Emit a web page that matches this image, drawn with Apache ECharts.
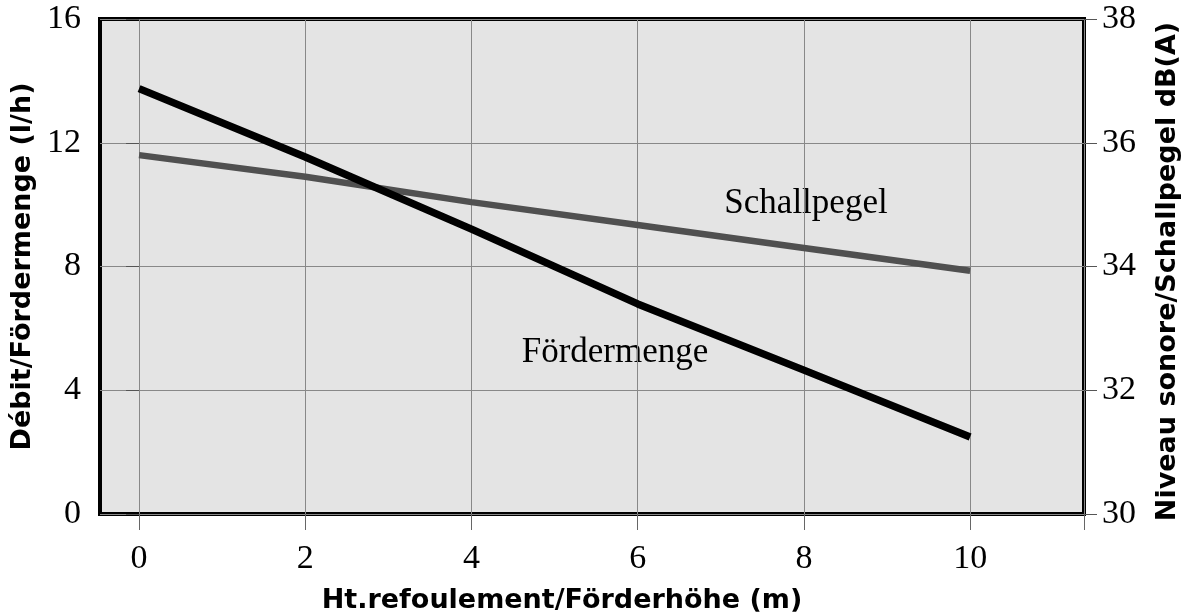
<!DOCTYPE html>
<html>
<head>
<meta charset="utf-8">
<script src="https://cdn.jsdelivr.net/npm/echarts@6/dist/echarts.min.js"></script>
<style>
html,body{margin:0;padding:0;background:#fff;}
#chart{width:1191px;height:615px;}
</style>
</head>
<body>
<div id="chart"></div>
<script>
// Data
const heads = [0, 2, 4, 6, 8, 10];                       // Ht.refoulement/Förderhöhe (m)
const flow = [13.75, 11.54, 9.21, 6.79, 4.65, 2.49];      // Débit/Fördermenge (l/h)
const sound = [35.80, 35.45, 35.04, 34.67, 34.30, 33.93]; // Niveau sonore/Schallpegel dB(A)
const xTickLabels = [0, 2, 4, 6, 8, 10];
const xMin = -0.47, xMax = 11.37;
const leftMin = 0, leftMax = 16, leftInterval = 4;
const rightMin = 30, rightMax = 38, rightInterval = 2;

const serif = '"Liberation Serif", "DejaVu Serif", serif';
const sans = '"DejaVu Sans", Verdana, sans-serif';

const chart = echarts.init(document.getElementById('chart'), null, {renderer: 'canvas'});
chart.setOption({
  animation: false,
  backgroundColor: '#ffffff',
  grid: {
    left: 100, right: 107, top: 19, bottom: 101,
    outerBoundsMode: 'none', containLabel: false,
    show: true, backgroundColor: '#e4e4e4', borderColor: '#000', borderWidth: 4
  },
  xAxis: {
    type: 'value', min: xMin, max: xMax,
    name: 'Ht.refoulement/Förderhöhe (m)', nameLocation: 'middle', nameGap: 73,
    nameTextStyle: {fontFamily: sans, fontWeight: 'bold', fontSize: 27, color: '#000', padding: [0, 60, 0, 0]},
    axisLine: {show: false},
    axisTick: {show: true, length: 16, customValues: xTickLabels.concat([xMax]), lineStyle: {color: '#666', width: 1}},
    axisLabel: {customValues: xTickLabels, margin: 28, fontFamily: serif, fontSize: 34, color: '#000'},
    splitLine: {show: true, lineStyle: {color: '#888', width: 1}}
  },
  yAxis: [
    {
      type: 'value', min: leftMin, max: leftMax, interval: leftInterval, position: 'left',
      name: 'Débit/Fördermenge (l/h)', nameLocation: 'middle', nameGap: 61, nameRotate: 90,
      nameTextStyle: {fontFamily: sans, fontWeight: 'bold', fontSize: 27, color: '#000'},
      axisLine: {show: false},
      axisTick: {show: true, length: 13, lineStyle: {color: '#555', width: 1}},
      axisLabel: {margin: 19, fontFamily: serif, fontSize: 34, color: '#000'},
      splitLine: {show: true, lineStyle: {color: '#888', width: 1}}
    },
    {
      type: 'value', min: rightMin, max: rightMax, interval: rightInterval, position: 'right',
      name: 'Niveau sonore/Schallpegel dB(A)', nameLocation: 'middle', nameGap: 70, nameRotate: 90,
      nameTextStyle: {fontFamily: sans, fontWeight: 'bold', fontSize: 27, color: '#000', padding: [0, 10, 0, 0]},
      axisLine: {show: false},
      axisTick: {show: true, length: 13, lineStyle: {color: '#555', width: 1}},
      axisLabel: {margin: 18, fontFamily: serif, fontSize: 34, color: '#000'},
      splitLine: {show: false}
    }
  ],
  series: [
    {
      name: 'Schallpegel', type: 'line', yAxisIndex: 1, symbol: 'none',
      data: heads.map((h, i) => [h, sound[i]]),
      lineStyle: {color: '#505050', width: 6.5}
    },
    {
      name: 'Fördermenge', type: 'line', yAxisIndex: 0, symbol: 'none',
      data: heads.map((h, i) => [h, flow[i]]),
      lineStyle: {color: '#000', width: 7.5}
    }
  ],
  graphic: [
    {type: 'text', x: 806, y: 204, style: {text: 'Schallpegel', font: '35px ' + serif, fill: '#000', textAlign: 'center', textVerticalAlign: 'middle'}},
    {type: 'text', x: 615, y: 353, style: {text: 'Fördermenge', font: '35px ' + serif, fill: '#000', textAlign: 'center', textVerticalAlign: 'middle'}}
  ]
});
</script>
</body>
</html>
